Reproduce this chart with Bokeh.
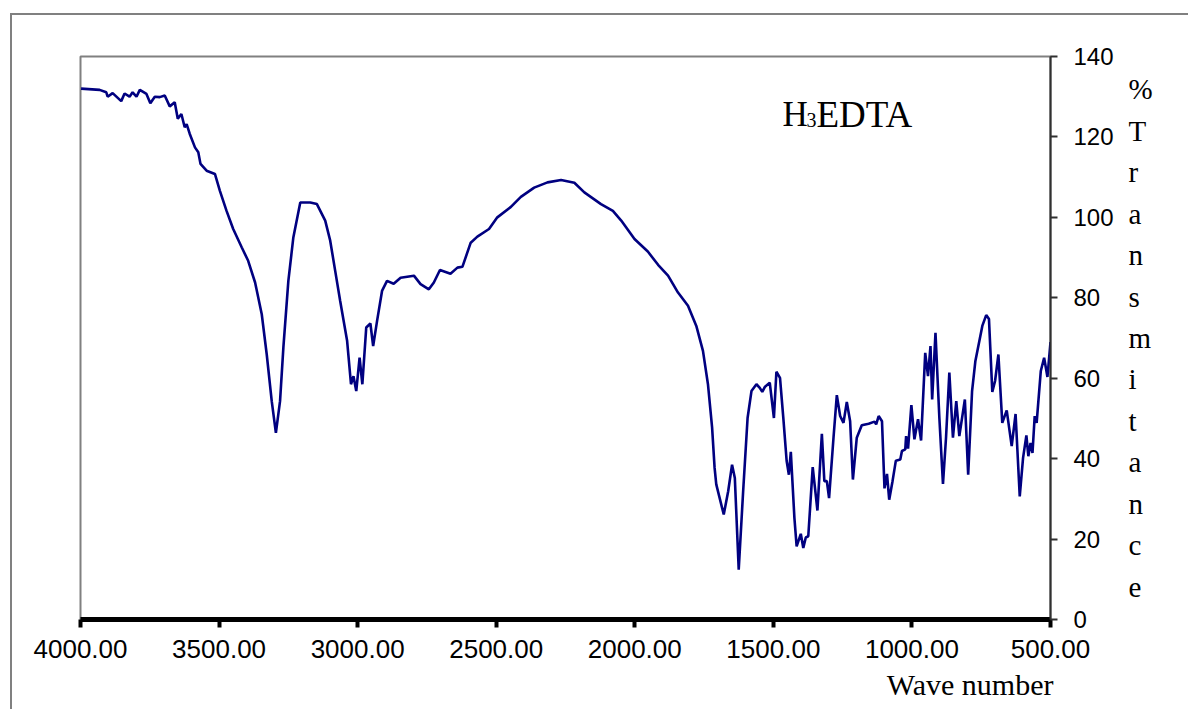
from bokeh.plotting import figure
from bokeh.models import Range1d, FixedTicker, Label, Title
from bokeh.embed import file_html
from bokeh.resources import INLINE

# ---- data ----
wavenumber = [3998, 3931, 3907, 3902, 3884, 3853, 3841, 3823, 3812, 3798, 3786, 3762, 3748, 3732,
              3714, 3696, 3678, 3660, 3649, 3636, 3624, 3617, 3606, 3587, 3575, 3567, 3545, 3515,
              3497, 3473, 3449, 3418, 3395, 3370, 3346, 3328, 3310, 3295, 3280, 3268, 3250, 3232,
              3207, 3171, 3147, 3117, 3099, 3081, 3063, 3038, 3024, 3015, 3005, 2993, 2983, 2969,
              2954, 2944, 2930, 2912, 2894, 2870, 2845, 2797, 2773, 2743, 2725, 2703, 2665, 2640,
              2622, 2592, 2568, 2526, 2496, 2447, 2411, 2363, 2315, 2266, 2218, 2182, 2122, 2079,
              2049, 2001, 1953, 1916, 1880, 1844, 1808, 1778, 1754, 1736, 1721, 1712, 1706, 1679,
              1663, 1649, 1639, 1625, 1609, 1593, 1579, 1561, 1549, 1540, 1531, 1513, 1498, 1489,
              1476, 1464, 1452, 1444, 1437, 1424, 1416, 1401, 1392, 1383, 1374, 1358, 1341, 1325,
              1316, 1307, 1299, 1283, 1271, 1259, 1247, 1235, 1223, 1213, 1199, 1181, 1156, 1135,
              1129, 1120, 1108, 1099, 1090, 1082, 1070, 1058, 1042, 1036, 1024, 1021, 1014, 1002,
              991, 978, 967, 952, 942, 933, 927, 915, 901, 888, 877, 865, 852, 840, 829, 809, 797,
              783, 771, 746, 732, 722, 710, 700, 688, 674, 658, 640, 626, 611, 599, 587, 580, 572,
              565, 557, 550, 535, 523, 511, 500]
transmittance = [132.0, 131.7, 131.1, 130.0, 130.9, 128.9, 130.8, 130.0, 131.1, 130.0, 131.7, 130.7,
                 128.4, 130.0, 129.9, 130.3, 127.6, 128.6, 124.5, 125.7, 122.4, 123.2, 120.8, 117.4,
                 116.2, 113.3, 111.6, 110.8, 106.6, 101.6, 97.1, 92.5, 89.2, 83.8, 75.9, 65.9, 54.3,
                 46.4, 54.3, 67.6, 84.2, 95.0, 103.7, 103.7, 103.3, 99.2, 94.2, 86.7, 79.2, 69.3,
                 58.5, 60.5, 56.8, 65.1, 58.5, 72.6, 73.6, 68.0, 74.2, 81.7, 84.2, 83.5, 85.0, 85.5,
                 83.4, 82.1, 83.8, 86.9, 86.0, 87.5, 87.7, 93.7, 95.2, 97.1, 100.0, 102.6, 105.1,
                 107.4, 108.7, 109.3, 108.6, 106.2, 103.3, 101.6, 99.2, 94.6, 91.5, 88.2, 85.5, 81.3,
                 78.0, 73.0, 66.8, 58.5, 47.7, 37.7, 33.6, 26.1, 31.9, 38.5, 35.2, 12.4, 31.9, 50.1,
                 56.8, 58.5, 57.6, 56.6, 57.8, 58.9, 50.1, 61.6, 60.1, 50.1, 39.4, 36.0, 41.7, 25.2,
                 18.2, 21.3, 17.8, 20.4, 20.7, 37.9, 27.1, 46.2, 34.4, 34.4, 30.2, 45.2, 55.8, 50.6,
                 48.9, 54.1, 49.3, 34.8, 45.2, 48.3, 48.7, 49.2, 48.5, 50.6, 49.3, 32.6, 36.2, 29.8,
                 34.4, 39.5, 39.8, 41.9, 42.3, 45.6, 42.5, 53.3, 44.8, 49.8, 44.5, 66.3, 60.5, 68.0,
                 54.7, 71.3, 50.1, 33.7, 45.2, 61.4, 45.2, 54.3, 45.6, 54.7, 36.0, 56.8, 64.3, 73.0,
                 75.7, 74.7, 56.6, 59.3, 65.9, 48.9, 52.0, 43.1, 51.1, 30.6, 40.2, 45.8, 40.6, 43.9,
                 41.4, 50.6, 48.9, 61.8, 65.1, 60.3, 69.0]

x_ticks = [4000, 3500, 3000, 2500, 2000, 1500, 1000, 500]
x_tick_labels = ["4000.00", "3500.00", "3000.00", "2500.00", "2000.00", "1500.00", "1000.00", "500.00"]
y_ticks = [0, 20, 40, 60, 80, 100, 120, 140]

sample_name = ["H", "3", "EDTA"]
x_title = "Wave number"
y_title = "%Transmitance"

# ---- layout geometry (pixels) ----
LEFT, TOP, FRAME_W, FRAME_H = 68, 41, 970, 563
W, H = 1178, 696

p = figure(width=W, height=H, output_backend="svg", toolbar_location=None,
           x_range=Range1d(4000, 500), y_range=Range1d(0, 140),
           x_axis_location="below", y_axis_location="right",
           min_border_left=LEFT, min_border_top=TOP,
           min_border_right=W - LEFT - FRAME_W, min_border_bottom=H - TOP - FRAME_H)
p.styles = {"margin-top": "13px", "margin-left": "10px",
            "border-top": "2px solid #808080", "border-left": "2px solid #808080"}

p.grid.visible = False
p.background_fill_color = "white"
p.border_fill_color = "white"
p.outline_line_color = "#808080"
p.outline_line_width = 2

xa = p.xaxis[0]
xa.ticker = FixedTicker(ticks=x_ticks)
xa.major_label_overrides = {t: l for t, l in zip(x_ticks, x_tick_labels)}
xa.axis_line_color = "black"
xa.axis_line_width = 5
xa.major_tick_line_color = "black"
xa.major_tick_line_width = 4
xa.major_tick_in = 0
xa.major_tick_out = 8
xa.minor_tick_line_color = None
xa.major_label_standoff = 12
xa.major_label_text_font = "Liberation Sans"
xa.major_label_text_font_size = "26px"
xa.major_label_text_color = "black"

ya = p.yaxis[0]
ya.ticker = FixedTicker(ticks=y_ticks)
ya.axis_line_color = "#303030"
ya.axis_line_width = 2
ya.major_tick_line_color = "#303030"
ya.major_tick_line_width = 2
ya.major_tick_in = 0
ya.major_tick_out = 7
ya.minor_tick_line_color = None
ya.major_label_standoff = 16
ya.major_label_text_font = "Liberation Sans"
ya.major_label_text_font_size = "24px"
ya.major_label_text_color = "black"

# stacked y title: one character per line
ya.axis_label = "\n".join(y_title)
ya.axis_label_orientation = "horizontal"
ya.axis_label_text_font = "Liberation Serif"
ya.axis_label_text_font_style = "normal"
ya.axis_label_text_font_size = "29px"
ya.axis_label_text_line_height = 1.296
ya.axis_label_text_align = "center"
ya.axis_label_text_color = "black"
ya.axis_label_standoff = 12

# x title, right aligned below the axis
p.add_layout(Title(text=x_title, align="right", text_font="Liberation Serif",
                   text_font_style="normal", text_font_size="30px", text_color="black",
                   offset=-3, standoff=10), "below")

p.line(wavenumber, transmittance, line_color="#000080", line_width=2.6)

# pixel -> data helper for text placement inside the frame (frame top at 140)
def ydata(py_from_frame_top):
    return 140 - py_from_frame_top * 140.0 / FRAME_H

FRAME_TOP_PAGE = 56
p.add_layout(Label(x=4000, y=ydata(114 - FRAME_TOP_PAGE), x_offset=702, text=sample_name[0],
                   text_font="Liberation Serif", text_font_size="35px", text_baseline="alphabetic",
                   text_align="left", text_color="black"))
p.add_layout(Label(x=4000, y=ydata(119.5 - FRAME_TOP_PAGE), x_offset=726, text=sample_name[1],
                   text_font="Liberation Serif", text_font_size="20px", text_baseline="alphabetic",
                   text_align="left", text_color="black"))
p.add_layout(Label(x=4000, y=ydata(114 - FRAME_TOP_PAGE), x_offset=736, text=sample_name[2],
                   text_font="Liberation Serif", text_font_size="37px", text_baseline="alphabetic",
                   text_align="left", text_color="black"))

open("out.html", "w").write(file_html(p, INLINE))
